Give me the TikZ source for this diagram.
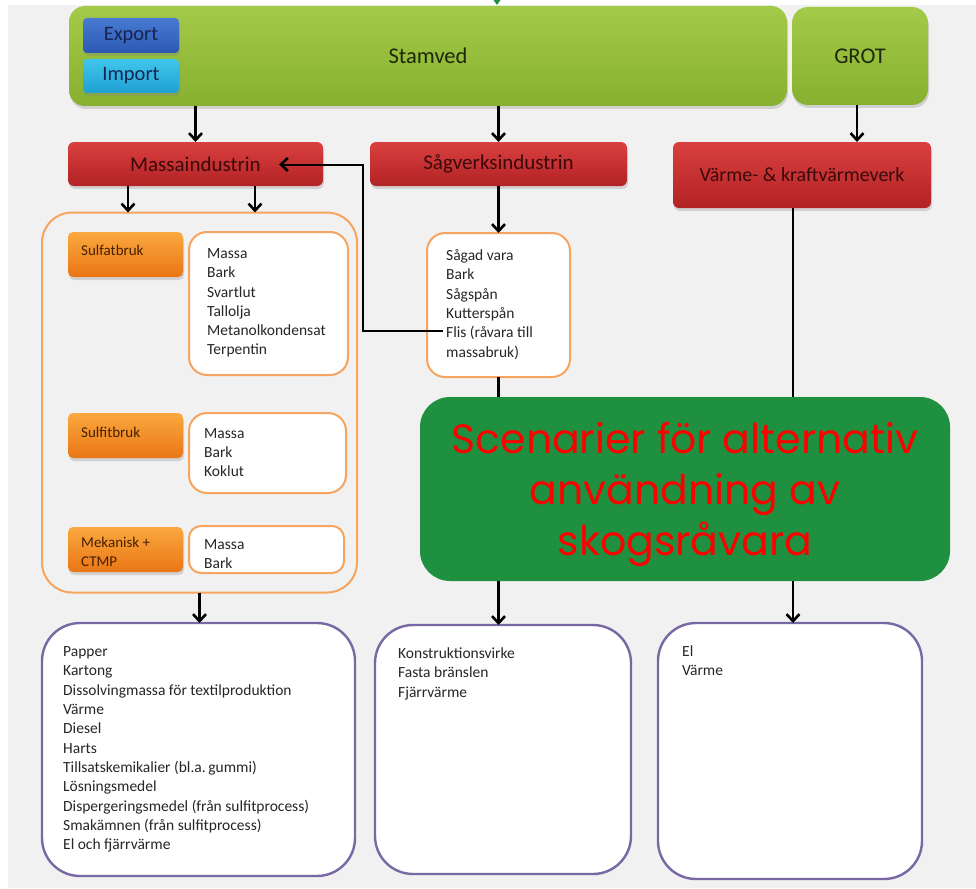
\documentclass[tikz,border=0pt]{standalone}
\usepackage{fontspec}
\setmainfont{Carlito}
\newfontfamily\scenfont{Poppins}
\usetikzlibrary{arrows.meta,shadows}
\definecolor{bgc}{RGB}{241,241,241}
\definecolor{stamtop}{RGB}{163,202,72}
\definecolor{stambot}{RGB}{136,176,48}
\definecolor{redtop}{RGB}{218,64,64}
\definecolor{redbot}{RGB}{178,34,36}
\definecolor{redtxt}{RGB}{58,10,10}
\definecolor{greentxt}{RGB}{30,40,10}
\definecolor{exptop}{RGB}{72,122,212}
\definecolor{expbot}{RGB}{44,88,178}
\definecolor{imptop}{RGB}{64,198,236}
\definecolor{impbot}{RGB}{30,160,210}
\definecolor{bluetxt}{RGB}{22,36,80}
\definecolor{ortop}{RGB}{250,168,64}
\definecolor{orbot}{RGB}{234,118,20}
\definecolor{ortxt}{RGB}{70,32,0}
\definecolor{orline}{RGB}{245,165,95}
\definecolor{puline}{RGB}{120,105,165}
\definecolor{biggreen}{RGB}{30,144,64}
\begin{document}
\begin{tikzpicture}[x=1pt,y=-1pt,
  shd/.style={drop shadow={opacity=0.28,shadow xshift=1pt,shadow yshift=-3pt}},
  abox/.style={inner sep=0pt,outer sep=0pt},
  stam/.style={abox,shd,rounded corners=16pt,top color=stamtop,bottom color=stambot,
    text=greentxt,font=\fontsize{22.5}{26}\selectfont},
  redbox/.style={abox,shd,rounded corners=6pt,top color=redtop,bottom color=redbot,
    text=redtxt,font=\fontsize{21}{25}\selectfont},
  orbox/.style={abox,shd,rounded corners=5pt,top color=ortop,bottom color=orbot},
  ortext/.style={inner sep=0pt,text=ortxt,font=\fontsize{15}{18.5}\selectfont,align=left},
  listbox/.style={abox,draw=orline,line width=2pt,fill=white,rounded corners=18pt},
  listtext/.style={inner sep=0pt,anchor=west,align=left,
    font=\fontsize{15.5}{19.3}\selectfont,text=black!85},
  pubox/.style={abox,draw=puline,line width=2.4pt,fill=white,rounded corners=38pt},
  putext/.style={inner sep=0pt,anchor=north west,align=left,
    font=\fontsize{15.5}{19.3}\selectfont,text=black!85},
  tip/.style={-{Straight Barb[length=7pt,width=13pt,line width=2.6pt]}},
  arr/.style={line width=2.4pt,tip},
  conn/.style={line width=2pt}]
\useasboundingbox (0,0) rectangle (976,888);
\fill[white] (0,0) rectangle (976,888);
\fill[bgc] (8,5) rectangle (976,888);

% top row
\node[stam,minimum width=718pt,minimum height=100pt] (stamved) at (428,56) {Stamved};
\node[abox,shd,rounded corners=4pt,top color=exptop,bottom color=expbot,text=bluetxt,
  font=\fontsize{20.5}{24}\selectfont,minimum width=96pt,minimum height=35pt] (export) at (131,35.5) {Export};
\node[abox,shd,rounded corners=4pt,top color=imptop,bottom color=impbot,text=bluetxt,
  font=\fontsize{20.5}{24}\selectfont,minimum width=96pt,minimum height=34pt] (import) at (131,76) {Import};
\node[stam,minimum width=136pt,minimum height=98pt] (grot) at (860,56) {GROT};

% green arrow tip at top edge
\coordinate (gtop) at (497,-6);
\coordinate (gtip) at (497,5);
\draw[biggreen,line width=1.5pt,-{Triangle[length=6pt,width=8pt]}] (gtop) -- (gtip);

% second row
\node[redbox,minimum width=255pt,minimum height=44pt] (massa) at (195.5,164) {Massaindustrin};
\node[redbox,minimum width=257pt,minimum height=44pt] (saw) at (498.5,164) {Sågverksindustrin};
\node[redbox,minimum width=258pt,minimum height=66pt,font=\fontsize{20}{24}\selectfont] (varme) at (802,175) {Värme- \& kraftvärmeverk};

% container
\node[abox,draw=orline,line width=2pt,rounded corners=30pt,minimum width=315pt,minimum height=380pt] (cont) at (199.5,402.5) {};

% orange process boxes
\node[orbox,minimum width=115pt,minimum height=45pt] (sulfat) at (125.5,254.5) {};
\node[ortext,anchor=west] (sulfatlbl) at (81,250) {Sulfatbruk};
\node[orbox,minimum width=115pt,minimum height=45pt] (sulfit) at (125.5,435.5) {};
\node[ortext,anchor=west] (sulfitlbl) at (81,432) {Sulfitbruk};
\node[orbox,minimum width=115pt,minimum height=45pt] (mek) at (125.5,549.5) {};
\node[ortext,anchor=west] (meklbl) at (81,552) {Mekanisk +\\CTMP};

% list boxes
\node[listbox,minimum width=159pt,minimum height=143pt] (sulfatlist) at (268.5,303.5) {};
\node[listtext] (sulfatlt) at (207,303) {Massa\\Bark\\Svartlut\\Tallolja\\Metanolkondensat\\Terpentin};
\node[listbox,minimum width=157pt,minimum height=80pt] (sulfitlist) at (267.5,453) {};
\node[listtext] (sulfitlt) at (204,452.5) {Massa\\Bark\\Koklut};
\node[listbox,minimum width=155pt,minimum height=47pt,rounded corners=12pt] (meklist) at (266.5,549.5) {};
\node[listtext] (meklt) at (204,554) {Massa\\Bark};
\node[listbox,minimum width=143pt,minimum height=144pt] (sagad) at (498.5,305) {};
\node[listtext] (sagadt) at (446,304.5) {Sågad vara\\Bark\\Sågspån\\Kutterspån\\Flis (råvara till\\massabruk)};

% output boxes
\node[pubox,minimum width=313pt,minimum height=253pt] (p1) at (198.5,749.5) {};
\node[putext] (p1t) at (63,646.5) {Papper\\Kartong\\Dissolvingmassa för textilproduktion\\Värme\\Diesel\\Harts\\Tillsatskemikalier (bl.a.\,gummi)\\Lösningsmedel\\Dispergeringsmedel (från sulfitprocess)\\Smakämnen (från sulfitprocess)\\El och fjärrvärme};
\node[pubox,minimum width=256pt,minimum height=249pt] (p2) at (503,749.5) {};
\node[putext] (p2t) at (398,647.5) {Konstruktionsvirke\\Fasta bränslen\\Fjärrvärme};
\node[pubox,minimum width=264pt,minimum height=256pt] (p3) at (790,751) {};
\node[putext] (p3t) at (682,645.5) {El\\Värme};

% connectors
\draw[arr] (massa.north |- stamved.south) -- (massa.north);
\draw[arr] (saw.north |- stamved.south) -- (saw.north);
\draw[arr] ([xshift=-3pt]grot.south) -- ([xshift=-3pt]grot.south |- varme.north);
\draw[arr] ([xshift=-67.5pt]massa.south) -- ([xshift=-67.5pt]massa.south |- cont.north);
\draw[arr] ([xshift=59.5pt]massa.south) -- ([xshift=59.5pt]massa.south |- cont.north);
\draw[arr] (cont.south) -- (cont.south |- p1.north);
\draw[arr] (saw.south) -- (sagad.north);
\draw[arr] (sagad.south) -- (sagad.south |- p2.north);
\draw[arr] ([xshift=3pt]p3.north |- varme.south) -- ([xshift=3pt]p3.north);
\coordinate (flis) at (443,331);
\coordinate (massin) at (279,164.5);
\draw[conn,tip] (flis) -- (363,331) |- (massin);

% scenario box
\node[abox,fill=biggreen,rounded corners=30pt,minimum width=530pt,minimum height=184pt] (scen) at (685,489) {};
\node[inner sep=0pt,text=red,align=center,font=\scenfont\fontsize{41}{51}\selectfont] (scent) at (685,494)
  {Scenarier för alternativ\\användning av\\skogsråvara};
\end{tikzpicture}
\end{document}
